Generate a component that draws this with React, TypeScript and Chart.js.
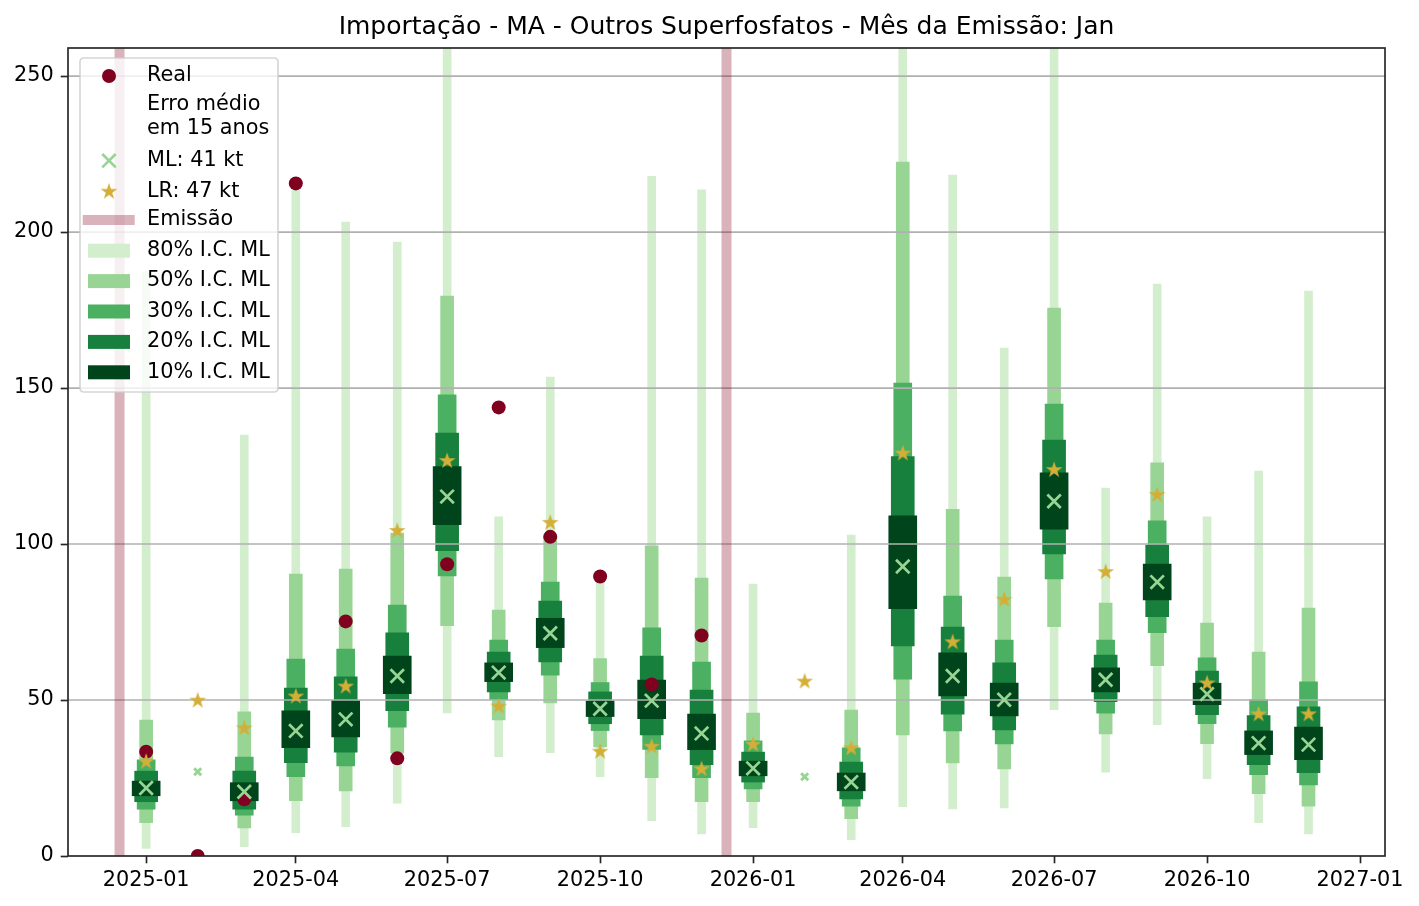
import React, { useEffect, useRef } from "react";
import { Chart, registerables } from "chart.js";

Chart.register(...registerables);

// ---------------- data ----------------
const TITLE = "Importação - MA - Outros Superfosfatos - Mês da Emissão: Jan";

const MONTHS = [
  "2025-01", "2025-02", "2025-03", "2025-04", "2025-05", "2025-06",
  "2025-07", "2025-08", "2025-09", "2025-10", "2025-11", "2025-12",
  "2026-01", "2026-02", "2026-03", "2026-04", "2026-05", "2026-06",
  "2026-07", "2026-08", "2026-09", "2026-10", "2026-11", "2026-12",
];

const REAL = [
  33.4, 0, 18.2, 215.6, 75.2, 31.3, 93.5, 143.8, 102.3, 89.6, 55.0, 70.7,
  null, null, null, null, null, null, null, null, null, null, null, null,
];

const ML = [
  21.8, 27.0, 20.6, 40.1, 43.8, 57.7, 115.2, 58.8, 71.4, 47.2, 49.8, 39.3,
  28.1, 25.4, 23.7, 92.8, 57.7, 50.1, 113.7, 56.5, 87.8, 51.9, 36.2, 35.7,
];

const LR = [
  30.2, 49.8, 40.9, 51.1, 54.3, 104.2, 126.6, 47.9, 106.8, 33.4, 35.0, 27.8,
  35.7, 55.9, 34.5, 129.0, 68.5, 82.1, 123.7, 91.0, 115.7, 55.3, 45.4, 45.4,
];

const CI80_LO = [2.4, null, 3.0, 7.5, 9.4, 16.9, 45.9, 31.8, 33.1, 25.4, 11.3, 7.1, 9.1, null, 5.2, 15.8, 15.1, 15.4, 46.9, 26.9, 42.1, 24.8, 10.7, 7.1];
const CI80_HI = [187.3, null, 134.9, 213.5, 203.2, 196.8, 300, 108.7, 153.5, 89.0, 217.9, 213.5, 87.2, null, 102.9, 290, 218.3, 162.8, 290, 117.9, 183.3, 108.7, 123.4, 181.1];
const CI50_LO = [10.7, null, 9.0, 17.7, 20.9, 33.0, 73.8, 43.6, 49.1, 35.0, 25.1, 17.4, 17.4, null, 12.0, 38.8, 29.8, 27.9, 73.5, 39.1, 61.0, 36.0, 20.0, 16.0];
const CI50_HI = [43.6, null, 46.2, 90.4, 92.0, 103.5, 179.5, 78.8, 103.0, 63.3, 99.4, 89.1, 45.8, null, 46.8, 222.4, 111.1, 89.4, 175.6, 81.1, 126.0, 74.7, 65.4, 79.5];
const CI30_LO = [15.0, null, 13.1, 25.4, 28.9, 41.3, 89.8, 50.1, 58.0, 40.2, 34.2, 25.1, 21.5, null, 16.0, 56.7, 40.1, 35.9, 88.8, 45.8, 71.6, 42.4, 26.1, 22.8];
const CI30_HI = [30.8, null, 31.7, 63.1, 66.3, 80.4, 147.8, 69.2, 87.8, 55.6, 73.1, 62.2, 36.9, null, 34.7, 151.6, 83.3, 69.2, 144.9, 69.2, 107.4, 63.5, 50.1, 55.8];
const CI20_LO = [17.4, null, 15.0, 29.9, 33.3, 46.6, 97.9, 52.6, 62.2, 42.4, 38.8, 29.3, 23.7, null, 18.3, 67.3, 45.5, 40.4, 96.8, 49.5, 76.7, 45.3, 29.3, 26.7];
const CI20_HI = [27.2, null, 27.2, 53.8, 57.4, 71.5, 135.6, 65.4, 81.7, 52.6, 64.1, 53.2, 33.3, null, 30.1, 128.0, 73.4, 61.9, 133.3, 64.4, 99.7, 59.3, 45.0, 47.8];
const CI10_LO = [19.3, null, 17.7, 34.7, 38.2, 52.0, 106.2, 55.9, 66.8, 44.7, 44.0, 34.1, 25.7, null, 20.9, 79.3, 51.3, 44.9, 104.8, 52.6, 82.1, 48.5, 32.5, 30.9];
const CI10_HI = [24.0, null, 23.5, 46.5, 49.8, 64.1, 124.8, 61.9, 76.2, 49.7, 56.4, 45.5, 30.4, null, 26.6, 109.0, 65.1, 55.4, 122.8, 60.3, 93.6, 55.4, 40.1, 41.3];

const EMISSION_DATES = ["2024-12-16", "2025-12-16"];

const X_TICKS = ["2025-01", "2025-04", "2025-07", "2025-10", "2026-01", "2026-04", "2026-07", "2026-10", "2027-01"];
const X_MIN_DATE = "2024-11-15";
const X_MAX_DATE = "2027-01-16";
const Y_MIN = 0;
const Y_MAX = 259;
const Y_STEP = 50;

const LABEL_REAL = "Real";
const LABEL_ERRO = ["Erro médio", "em 15 anos"];
const LABEL_ML = "ML: 41 kt";
const LABEL_LR = "LR: 47 kt";
const LABEL_EMISSAO = "Emissão";

// ---------------- styles ----------------
const FONT = "DejaVu Sans";
const FS = 20.8;
const C_REAL = "#800020";
const C_ML = "#98d594";
const C_LR = "#d4af37";
const C_EMISSAO = "rgba(128,0,32,0.3)";
const C_GRID = "#b0b0b0";
const C_AXIS = "#262626";
const LW = 1.67;

const LEVELS = [
  { label: "80% I.C. ML", lo: CI80_LO, hi: CI80_HI, color: "#d3eecd", width: 8, order: 14 },
  { label: "50% I.C. ML", lo: CI50_LO, hi: CI50_HI, color: "#98d594", width: 13, order: 13 },
  { label: "30% I.C. ML", lo: CI30_LO, hi: CI30_HI, color: "#4bb062", width: 18, order: 12 },
  { label: "20% I.C. ML", lo: CI20_LO, hi: CI20_HI, color: "#17803d", width: 23, order: 11 },
  { label: "10% I.C. ML", lo: CI10_LO, hi: CI10_HI, color: "#00441b", width: 28, order: 10 },
];

const DAY = 86400000;
function dayOf(s: string): number {
  const p = s.split("-").map(Number);
  return Date.UTC(p[0], p[1] - 1, p[2] || 1) / DAY;
}
function fmtMonth(v: number): string {
  const d = new Date(Math.round(v) * DAY);
  const m = d.getUTCMonth() + 1;
  return `${d.getUTCFullYear()}-${m < 10 ? "0" + m : m}`;
}

function makeStar(color: string, r: number): HTMLCanvasElement {
  const size = Math.ceil(r * 2 + 2);
  const c = document.createElement("canvas");
  c.width = size;
  c.height = size;
  const g = c.getContext("2d")!;
  g.translate(size / 2, size / 2);
  g.beginPath();
  for (let k = 0; k < 10; k++) {
    const a = -Math.PI / 2 + (k * Math.PI) / 5;
    const rr = k % 2 === 0 ? r : r * 0.381966;
    const px = Math.cos(a) * rr;
    const py = Math.sin(a) * rr;
    if (k === 0) g.moveTo(px, py);
    else g.lineTo(px, py);
  }
  g.closePath();
  g.fillStyle = color;
  g.fill();
  return c;
}

export default function App() {
  const ref = useRef<HTMLCanvasElement | null>(null);

  useEffect(() => {
    if (!ref.current) return;
    Chart.defaults.font.family = FONT;
    const star = makeStar(C_LR, 8.8);

    const hasCI = (i: number) => CI80_LO[i] != null;

    const barSets = LEVELS.map((l) => ({
      type: "bar" as const,
      label: l.label,
      data: MONTHS.map((m, i) =>
        l.lo[i] == null ? null : { x: dayOf(m), y: [l.lo[i] as number, l.hi[i] as number] }
      ).filter((d) => d !== null),
      backgroundColor: l.color,
      barThickness: l.width,
      grouped: false,
      borderWidth: 0,
      order: l.order,
      clip: 0,
    }));

    const emissionData: any[] = [];
    EMISSION_DATES.forEach((d) => {
      emissionData.push({ x: dayOf(d), y: Y_MIN });
      emissionData.push({ x: dayOf(d), y: Y_MAX });
      emissionData.push({ x: dayOf(d) + 1, y: null });
    });

    const drawGrid = (chart: any) => {
      const { ctx, chartArea } = chart;
      const ys = chart.scales.y;
      ctx.save();
      ctx.strokeStyle = C_GRID;
      ctx.lineWidth = LW;
      for (let v = Y_MIN + Y_STEP; v <= Y_MAX; v += Y_STEP) {
        const py = ys.getPixelForValue(v);
        ctx.beginPath();
        ctx.moveTo(chartArea.left, py);
        ctx.lineTo(chartArea.right, py);
        ctx.stroke();
      }
      ctx.restore();
    };

    const drawFrame = (chart: any) => {
      const { ctx, chartArea: a } = chart;
      ctx.save();
      ctx.strokeStyle = C_AXIS;
      ctx.lineWidth = LW;
      ctx.strokeRect(a.left, a.top, a.right - a.left, a.bottom - a.top);
      ctx.restore();
    };

    const drawLegend = (chart: any) => {
      const { ctx, chartArea: a } = chart;
      const L = a.left + 12;
      const T = a.top + 10;
      const W = 198;
      const H = 334;
      const mx = L + 29;
      const tx = L + 67;
      ctx.save();
      const r = 4;
      ctx.beginPath();
      ctx.moveTo(L + r, T);
      ctx.lineTo(L + W - r, T);
      ctx.quadraticCurveTo(L + W, T, L + W, T + r);
      ctx.lineTo(L + W, T + H - r);
      ctx.quadraticCurveTo(L + W, T + H, L + W - r, T + H);
      ctx.lineTo(L + r, T + H);
      ctx.quadraticCurveTo(L, T + H, L, T + H - r);
      ctx.lineTo(L, T + r);
      ctx.quadraticCurveTo(L, T, L + r, T);
      ctx.closePath();
      ctx.fillStyle = "rgba(255,255,255,0.8)";
      ctx.fill();
      ctx.strokeStyle = "rgba(204,204,204,0.8)";
      ctx.lineWidth = LW;
      ctx.stroke();

      ctx.font = `${FS}px '${FONT}'`;
      ctx.fillStyle = "#000";
      ctx.textAlign = "left";
      ctx.textBaseline = "middle";

      // Real
      let y = T + 18;
      ctx.beginPath();
      ctx.arc(mx, y, 7, 0, Math.PI * 2);
      ctx.fillStyle = C_REAL;
      ctx.fill();
      ctx.fillStyle = "#000";
      ctx.fillText(LABEL_REAL, tx, y);

      // Erro medio
      ctx.fillText(LABEL_ERRO[0], tx, T + 47);
      ctx.fillText(LABEL_ERRO[1], tx, T + 70.3);

      // ML
      y = T + 102.7;
      const h = 9.5 * Math.SQRT1_2;
      ctx.strokeStyle = C_ML;
      ctx.lineWidth = 2.7;
      ctx.beginPath();
      ctx.moveTo(mx - h, y - h);
      ctx.lineTo(mx + h, y + h);
      ctx.moveTo(mx + h, y - h);
      ctx.lineTo(mx - h, y + h);
      ctx.stroke();
      ctx.fillText(LABEL_ML, tx, y);

      // LR
      y = T + 133.7;
      ctx.drawImage(star, mx - star.width / 2, y - star.height / 2);
      ctx.fillText(LABEL_LR, tx, y);

      // Emissao
      y = T + 162;
      ctx.fillStyle = C_EMISSAO;
      ctx.fillRect(L + 2.7, y - 5, 52, 10);
      ctx.fillStyle = "#000";
      ctx.fillText(LABEL_EMISSAO, tx, y);

      // CI levels
      LEVELS.forEach((l, k) => {
        const yy = T + 192.7 + k * 30.4;
        ctx.fillStyle = l.color;
        ctx.fillRect(L + 8, yy - 7, 42, 14);
        ctx.fillStyle = "#000";
        ctx.fillText(l.label, tx, yy);
      });
      ctx.restore();
    };

    const plugin = {
      id: "mplDecor",
      afterDatasetDraw(chart: any, args: any) {
        const ds = chart.data.datasets[args.index];
        if (ds && ds.label === LEVELS[LEVELS.length - 1].label) drawGrid(chart);
      },
      afterDatasetsDraw(chart: any) {
        drawFrame(chart);
        drawLegend(chart);
      },
    };

    const chart = new Chart(ref.current, {
      type: "bar",
      data: {
        datasets: [
          ...barSets,
          {
            type: "line" as const,
            label: LABEL_EMISSAO,
            data: emissionData,
            borderColor: C_EMISSAO,
            borderWidth: 10,
            borderCapStyle: "butt",
            pointRadius: 0,
            spanGaps: false,
            order: 5,
            clip: 0,
          },
          {
            type: "line" as const,
            label: LABEL_REAL,
            data: MONTHS.map((m, i) => (REAL[i] == null ? null : { x: dayOf(m), y: REAL[i] })).filter((d) => d !== null),
            showLine: false,
            pointStyle: "circle",
            pointRadius: 7,
            pointBackgroundColor: C_REAL,
            pointBorderWidth: 0,
            order: 2,
            clip: 0,
          },
          {
            type: "line" as const,
            label: LABEL_ML,
            data: MONTHS.map((m, i) => ({ x: dayOf(m), y: ML[i] })),
            showLine: false,
            pointStyle: "crossRot",
            pointRadius: (c: any) => (hasCI(c.dataIndex) ? 9.5 : 5),
            pointBorderColor: C_ML,
            pointBorderWidth: (c: any) => (hasCI(c.dataIndex) ? 2.7 : 3),
            order: 1,
            clip: 0,
          },
          {
            type: "line" as const,
            label: LABEL_LR,
            data: MONTHS.map((m, i) => ({ x: dayOf(m), y: LR[i] })),
            showLine: false,
            pointStyle: star,
            pointRadius: 8,
            order: 0,
            clip: 0,
          },
        ] as any,
      },
      options: {
        responsive: false,
        animation: false,
        events: [],
        layout: { padding: { left: 0, right: 34, top: 0, bottom: 0 } },
        plugins: {
          legend: { display: false },
          tooltip: { enabled: false },
          title: {
            display: true,
            text: TITLE,
            fullSize: false,
            color: "#000",
            font: { size: 25, family: FONT, weight: "normal", lineHeight: 1.2 },
            padding: { top: 12, bottom: 6 },
          },
        },
        scales: {
          x: {
            type: "linear",
            min: dayOf(X_MIN_DATE),
            max: dayOf(X_MAX_DATE),
            offset: false,
            afterFit: (s: any) => {
              s.height = 50;
            },
            afterBuildTicks: (s: any) => {
              s.ticks = X_TICKS.map((t) => ({ value: dayOf(t) }));
            },
            ticks: {
              callback: (v: any) => fmtMonth(Number(v)),
              autoSkip: false,
              maxRotation: 0,
              minRotation: 0,
              padding: 5,
              color: "#000",
              font: { size: FS, family: FONT },
            },
            grid: {
              drawOnChartArea: false,
              offset: false,
              drawTicks: true,
              tickLength: 7.3,
              tickColor: C_AXIS,
              tickWidth: LW,
            },
            border: { display: false },
          },
          y: {
            type: "linear",
            min: Y_MIN,
            max: Y_MAX,
            afterFit: (s: any) => {
              s.width = 68;
            },
            ticks: {
              stepSize: Y_STEP,
              includeBounds: false,
              padding: 7,
              color: "#000",
              font: { size: FS, family: FONT },
            },
            grid: {
              drawOnChartArea: false,
              drawTicks: true,
              tickLength: 7.3,
              tickColor: C_AXIS,
              tickWidth: LW,
            },
            border: { display: false },
          },
        },
      } as any,
      plugins: [plugin],
    });

    return () => chart.destroy();
  }, []);

  return (
    <div style={{ position: "absolute", left: 0, top: 0, width: 1419, height: 906, background: "#fff" }}>
      <canvas ref={ref} width={1419} height={906} style={{ width: 1419, height: 906, display: "block" }} />
    </div>
  );
}
